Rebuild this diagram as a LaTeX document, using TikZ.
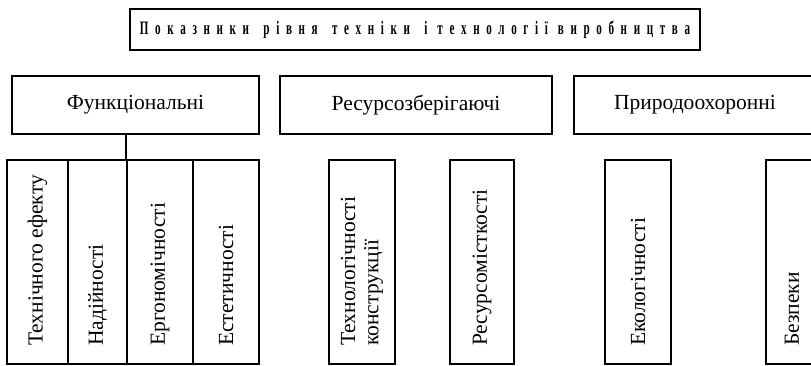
\documentclass[tikz,border=0pt]{standalone}
\usepackage{fontspec}
\setmainfont{Liberation Serif}
\makeatletter
% set a word letter by letter with an even gap after each letter
\newcommand\spreadword[1]{\@tfor\ch:=#1\do{\ch\hspace{0.6em}}\unskip}
\makeatother
\newcommand\widegap{\hspace{1.3em}}
\newcommand\narrowgap{\hspace{0.9em}}
\begin{document}
\begin{tikzpicture}[x=0.025cm,y=-0.025cm,
  box/.style={draw, line width=1.3pt, inner sep=0pt},
  titlebox/.style={box, line width=1.6pt},
  sized/.style 2 args={minimum width=#1*0.025cm, minimum height=#2*0.025cm},
  lbl/.style={font=\fontsize{15.3}{16.5}\selectfont, inner sep=0pt},
  vlbl/.style={lbl, rotate=90, align=left, anchor=west},
  link/.style={line width=1.3pt}]
\useasboundingbox (0,0) rectangle (811,366);
\clip (0,0) rectangle (811,366);

% heading
\node[titlebox, sized={570}{41}] (title) at (415,29.5)
  {\resizebox{13.75cm}{0.34cm}{\bfseries
   \spreadword{Показники}\widegap\spreadword{рівня}\widegap
   \spreadword{техніки}\widegap\spreadword{і}\narrowgap
   \spreadword{технології}\narrowgap\spreadword{виробництва}}};

% groups
\node[box, lbl, sized={247}{58}] (func) at (135.5,105) {Функціональні};
\node[box, lbl, sized={272}{58}] (res)  at (416,105)   {Ресурсозберігаючі};
\node[box, lbl, sized={242}{58}] (nat)  at (695,105)   {Природоохоронні};

% indicators
\node[box, sized={61}{204}] (effect) at (37.5,262) {};
\node[box, sized={59}{204}] (rel)    at (97.5,262) {};
\node[box, sized={66}{204}] (ergo)   at (160,262)  {};
\node[box, sized={66}{204}] (aesth)  at (226,262)  {};
\node[box, sized={66}{204}] (techn)  at (362,262)  {};
\node[box, sized={64}{204}] (resint) at (482,262)  {};
\node[box, sized={66}{204}] (eco)    at (638,262)  {};
\node[box, sized={52}{204}] (safe)   at (792,262)  {};

\foreach \b/\t in {effect/Технічного ефекту, rel/Надійності,
                   ergo/Ергономічності, aesth/Естетичності,
                   techn/{Технологічності\\конструкції},
                   resint/Ресурсомісткості, eco/Екологічності,
                   safe/Безпеки}
  \node[vlbl] (\b-text) at ([yshift=0.47cm]\b.south) {\t};

% link from the functional group to its indicators
\draw[link] (ergo.north west |- func.south) -- (ergo.north west);
\end{tikzpicture}
\end{document}
